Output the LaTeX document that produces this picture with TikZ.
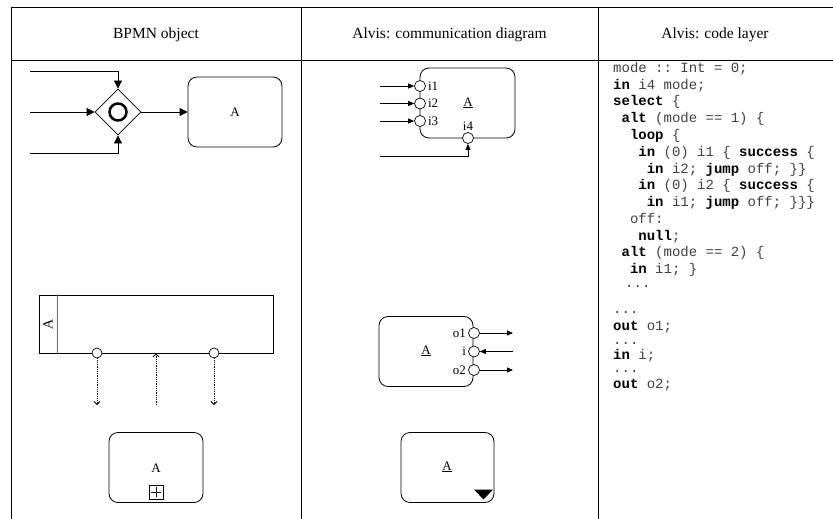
\documentclass[tikz,border=0pt]{standalone}
\usepackage{fontspec}
\setmainfont{Liberation Serif}
\setmonofont{Liberation Mono}
\usetikzlibrary{arrows.meta,shapes.geometric,positioning}

\tikzset{
  task/.style={draw, rounded corners=9pt, minimum width=94pt, minimum height=70pt, line width=0.8pt, font=\fontsize{13}{15}\selectfont},
  port/.style={draw, circle, fill=white, inner sep=0pt, minimum size=11pt, line width=0.7pt},
  plabel/.style={inner sep=1pt, font=\fontsize{13}{15}\selectfont},
  flow/.style={-{Triangle[length=8pt,width=8pt]}, line width=0.8pt},
  sflow/.style={-{Triangle[length=6pt,width=5pt]}, line width=0.8pt},
  msg/.style={-{Straight Barb[length=3pt,width=6pt]}, densely dotted, line width=0.8pt},
  code/.style={anchor=base west, inner sep=0pt, text=black!75, font=\fontsize{14}{16}\ttfamily},
  head/.style={font=\fontsize{15.5}{18}\selectfont},
}
\newcommand{\kw}[1]{\textcolor{black}{\textbf{#1}}}

\begin{document}
\begin{tikzpicture}[x=1pt,y=-1pt]
\useasboundingbox (0,0) rectangle (833,519);

% table lines
\draw[line width=0.8pt] (11,7) -- (833,7);
\draw[line width=0.8pt] (11,60) -- (833,60);
\draw[line width=0.8pt] (11,7) -- (11,519);
\draw[line width=0.8pt] (301,7) -- (301,519);
\draw[line width=0.8pt] (598,7) -- (598,519);

\node[head] (h1) at (156,35) {BPMN object};
\node[head] (h2) at (449.5,35) {Alvis: communication diagram};
\node[head] (h3) at (715,35) {Alvis: code layer};

% --- gateway with three inputs
\node[diamond, draw, aspect=1, minimum size=46pt, inner sep=0pt, line width=0.8pt] (gw) at (118,112) {};
\node[circle, draw, line width=2.5pt, minimum size=17pt, inner sep=0pt] (gwc) at (gw) {};
\coordinate (in1) at (30,71);
\coordinate (in2) at (30,112);
\coordinate (in3) at (30,153);
\draw[flow] (in1) -| (gw.north);
\draw[flow] (in2) -- (gw.west);
\draw[flow] (in3) -| (gw.south);
\node[task] (ta) at (235,112) {A};
\draw[flow] (gw.east) -- (ta.west);

% --- agent with input ports
\node[task, minimum width=95pt] (ag1) at (467.5,103) {};
\node[plabel] (ag1n) at (468,103) {\underline{A}};
\node[port] (p1) at (420,86) {};
\node[port] (p2) at (420,103.5) {};
\node[port] (p3) at (420,121) {};
\node[port] (p4) at (468,138) {};
\node[plabel, right=1pt of p1] (l1) {i1};
\node[plabel, right=1pt of p2] (l2) {i2};
\node[plabel, right=1pt of p3] (l3) {i3};
\node[plabel, above=0pt of p4] (l4) {i4};
\coordinate (s1) at (380,86);
\coordinate (s2) at (380,103.5);
\coordinate (s3) at (380,121);
\coordinate (s4) at (380,156);
\draw[sflow] (s1) -- (p1.west);
\draw[sflow] (s2) -- (p2.west);
\draw[sflow] (s3) -- (p3.west);
\draw[sflow] (s4) -| (p4.south);

% --- pool with message ports
\node[draw, minimum width=234pt, minimum height=58pt, line width=0.8pt] (pool) at (156,324) {};
\draw[black!60, line width=0.9pt] (57,295) -- (57,353);
\node[plabel, rotate=90, font=\fontsize{14}{16}\selectfont] (pooln) at (48,324) {A};
\node[port, minimum size=10pt] (q1) at (97,353) {};
\node[port, minimum size=10pt] (q2) at (214,353) {};
\coordinate (m1) at (97,405);
\coordinate (m2) at (156,405);
\coordinate (m3) at (214,405);
\draw[msg] (q1) -- (m1);
\draw[msg] (m2) -- (pool.south);
\draw[msg] (q2) -- (m3);

% --- agent with output ports
\node[task] (ag2) at (426,351.5) {};
\node[plabel] (ag2n) at (426,351) {\underline{A}};
\node[port] (r1) at (474,333) {};
\node[port] (r2) at (474,351.5) {};
\node[port] (r3) at (474,370) {};
\node[plabel, left=1pt of r1] (k1) {o1};
\node[plabel, left=1pt of r2] (k2) {i};
\node[plabel, left=1pt of r3] (k3) {o2};
\coordinate (t1) at (513,333);
\coordinate (t2) at (513,351.5);
\coordinate (t3) at (513,370);
\draw[sflow] (r1.east) -- (t1);
\draw[sflow] (t2) -- (r2.east);
\draw[sflow] (r3.east) -- (t3);

% --- subprocess
\node[task] (sp) at (156,467.5) {};
\node[plabel] (spn) at (156,468) {A};
\node[draw, minimum size=14pt, inner sep=0pt, line width=0.7pt] (plus) at (156,492) {};
\draw[line width=0.9pt] ([yshift=-2pt]plus.north) -- ([yshift=2pt]plus.south);
\draw[line width=0.9pt] ([xshift=2pt]plus.west) -- ([xshift=-2pt]plus.east);

% --- hierarchical agent
\node[task, minimum width=93pt] (ag3) at (447.5,467.5) {};
\node[plabel] (ag3n) at (447,467) {\underline{A}};
\fill (474,489.5) -- (493,489.5) -- (483.5,499.5) -- cycle;

% --- code layer
\node[code] (c1) at (613,72.5) {mode :: Int = 0;};
\node[code] (c2) at (613,89.25) {\kw{in} i4 mode;};
\node[code] (c3) at (613,106) {\kw{select} \{};
\node[code] (c4) at (621.4,122.75) {\kw{alt} (mode == 1) \{};
\node[code] (c5) at (629.8,139.5) {\kw{loop} \{};
\node[code] (c6) at (638.2,156.25) {\kw{in} (0) i1 \{ \kw{success} \{};
\node[code] (c7) at (646.6,173) {\kw{in} i2; \kw{jump} off; \}\}};
\node[code] (c8) at (638.2,189.75) {\kw{in} (0) i2 \{ \kw{success} \{};
\node[code] (c9) at (646.6,206.5) {\kw{in} i1; \kw{jump} off; \}\}\}};
\node[code] (c10) at (629.8,223.25) {off:};
\node[code] (c11) at (638.2,240) {\kw{null};};
\node[code] (c12) at (621.4,256.75) {\kw{alt} (mode == 2) \{};
\node[code] (c13) at (629.8,273.5) {\kw{in} i1; \}};
\node[code] (c14) at (625,287) {...};
\node[code] (c15) at (613,313) {...};
\node[code] (c16) at (613,330) {\kw{out} o1;};
\node[code] (c17) at (613,344) {...};
\node[code] (c18) at (613,359) {\kw{in} i;};
\node[code] (c19) at (613,372.5) {...};
\node[code] (c20) at (613,388) {\kw{out} o2;};

\end{tikzpicture}
\end{document}
